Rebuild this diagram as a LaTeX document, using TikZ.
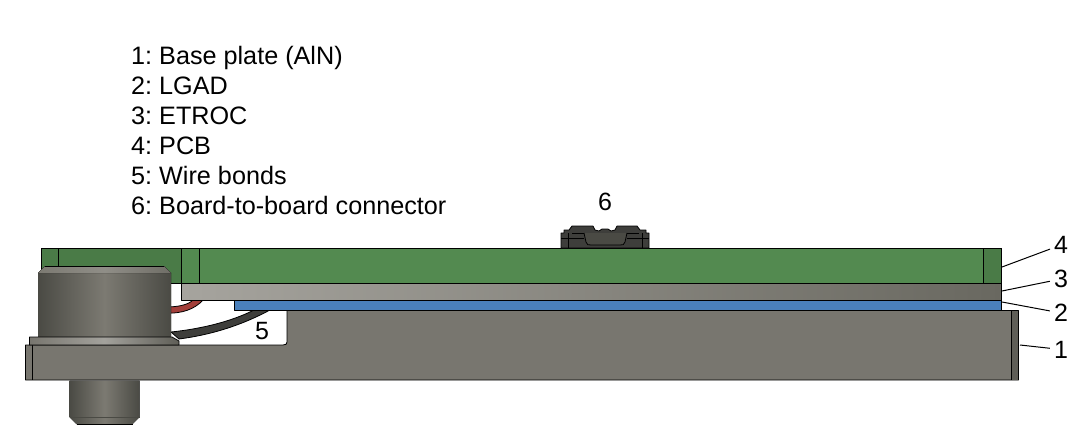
\documentclass[tikz,border=0pt]{standalone}
\usepackage{fontspec}
\setmainfont{Liberation Sans}
\usetikzlibrary{positioning}
\definecolor{pcbgreen}{HTML}{538A50}
\definecolor{pcbdark}{HTML}{4A7B47}
\definecolor{lgadblue}{HTML}{4A80BB}
\definecolor{basegray}{HTML}{78766F}
\definecolor{basedark}{HTML}{5F5E57}
\definecolor{etroclight}{HTML}{A6A49E}
\definecolor{etrocdark}{HTML}{696860}
\definecolor{screwlight}{HTML}{7C7A72}
\definecolor{screwdark}{HTML}{4A4A44}
\definecolor{wirered}{HTML}{A33F3A}
\definecolor{wireblack}{HTML}{3E3E3B}
\tikzset{
  part/.style={draw=black, line width=0.8pt, line join=round},
  cyl/.style={left color=screwdark, right color=screwdark, middle color=screwlight},
  numlabel/.style={font=\fontsize{25}{25}\selectfont, inner sep=1pt},
  leader/.style={line width=1pt, shorten >=3pt},
}
\begin{document}
\frenchspacing
\begin{tikzpicture}[x=1pt, y=-1pt]
  \useasboundingbox (0,0) rectangle (1080,436);

  % Legend
  \node [anchor=north west, align=left, inner sep=0pt, font=\fontsize{25.2}{30}\selectfont] (legend) at (131,46) {
    1: Base plate (AlN)\\
    2: LGAD\\
    3: ETROC\\
    4: PCB\\
    5: Wire bonds\\
    6: Board-to-board connector};

  % PCB
  \draw [part, fill=pcbgreen] (41,248.5) rectangle (1001,283);
  \fill [pcbdark] (41.5,249) rectangle (181,283);
  \fill [pcbdark] (983,249) rectangle (1001,283);
  \draw [part] (41,248.5) rectangle (1001,283);
  \draw [part] (58,248.5) -- (58,266);
  \draw [part] (181.5,248.5) -- (181.5,283);
  \draw [part] (199,248.5) -- (199,283);
  \draw [part] (983,248.5) -- (983,283);

  % Wire bonds
  \draw [part, fill=wirered] (165,307) .. controls (178,307) and (188,305) .. (193,300)
    -- (203,300) .. controls (195,309) and (182,314) .. (165,313) -- cycle;
  \draw [part, fill=wireblack] (171,332) .. controls (200,329) and (230,322) .. (253,310.5)
    -- (269,310.5) .. controls (240,326) and (210,335) .. (179,339) -- cycle;

  % ETROC, LGAD
  \draw [part, left color=etroclight, right color=etrocdark] (181.5,283) rectangle (1001,300);
  \draw [part, fill=lgadblue] (234.5,300) rectangle (1001,310.5);

  % Base plate
  \draw [part, fill=basegray] (25.5,345) -- (283,345) .. controls (286,345) and (287,344) .. (287,342)
    -- (287,310.5) -- (1018.5,310.5) -- (1018.5,380) -- (25.5,380) -- cycle;
  \fill [basedark] (1011,311) rectangle (1018,379.5);
  \draw [part] (32,345) -- (32,380);
  \draw [part] (1011,310.5) -- (1011,380);
  \draw [part] (1018.5,310.5) -- (1018.5,380);

  % Screw
  \fill [cyl] (69.5,380.5) -- (139.5,380.5) -- (139.5,417) -- (132.5,424) -- (76.5,424) -- (69.5,417) -- cycle;
  \draw [part] (76.5,424) -- (132.5,424);
  \draw [line width=0.5pt, screwdark] (69.5,417) -- (139.5,417);
  \fill [cyl] (38,337) -- (38,273) -- (45,266) -- (164,266) -- (171,273) -- (171,337) -- cycle;
  \fill [left color=screwlight, right color=screwlight!90!black, middle color=screwlight!85!white] (38,273) -- (45,266.5) -- (164,266.5) -- (171,273) -- cycle;
  \draw [part] (45,266) -- (164,266);
  \draw [part, left color=basegray, right color=basedark, middle color=screwlight!70!white]
    (29.5,337) -- (172,337) -- (179,341) -- (179,345) -- (29.5,345) -- cycle;

  % Connector
  \draw [part, fill=wireblack] (561,248) -- (561,233) -- (564,233) -- (564,230) -- (569,230) -- (572,226) -- (593,226)
    -- (595,230) -- (599,231) -- (602,229) -- (608,229) -- (611,231) -- (615,230) -- (617,226) -- (637,226)
    -- (640,230) -- (646,230) -- (646,233) -- (649,233) -- (649,248) -- cycle;
  \draw [part, fill=screwdark] (584,233) -- (586,242) .. controls (587,245) and (588,245) .. (591,245) -- (620,245)
    .. controls (623,245) and (624,245) .. (625,242) -- (627,233);
  \draw [part] (572,233) -- (584,233);
  \draw [part] (627,233) -- (639,233);
  \draw [part] (561,238) -- (584,238);
  \draw [part] (627,238) -- (649,238);
  \draw [part] (568,233) -- (568,248);
  \draw [part] (642,233) -- (642,248);

  % Labels
  \node [numlabel] (label5) at (262,331) {5};
  \node [numlabel] (label6) at (605,202) {6};
  \node [numlabel] (label4) at (1061,245) {4};
  \node [numlabel] (label3) at (1061,279) {3};
  \node [numlabel] (label2) at (1061,313) {2};
  \node [numlabel] (label1) at (1061,349.5) {1};

  % Leaders
  \coordinate (tip4) at (1002,267);
  \coordinate (tip3) at (1002,291);
  \coordinate (tip2) at (1002,302);
  \coordinate (tip1) at (1020,345);
  \draw [leader] (tip4) -- (label4);
  \draw [leader] (tip3) -- (label3);
  \draw [leader] (tip2) -- (label2);
  \draw [leader] (tip1) -- (label1);
\end{tikzpicture}
\end{document}
